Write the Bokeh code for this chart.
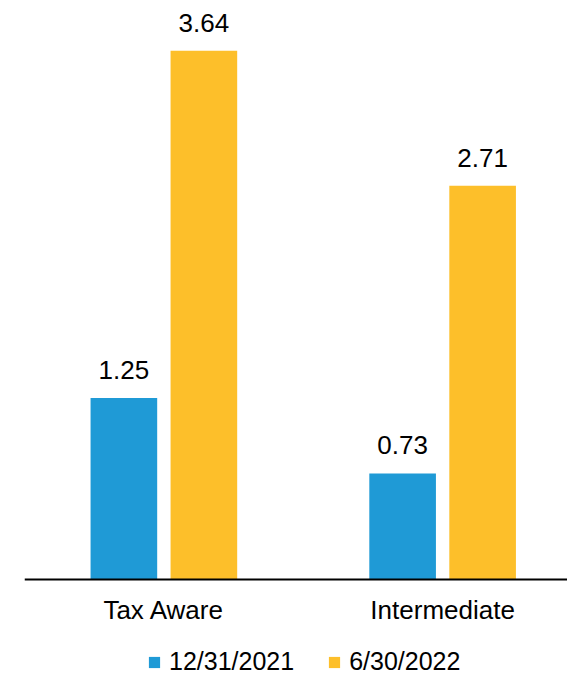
from bokeh.plotting import figure
from bokeh.models import Range1d, FixedTicker, ColumnDataSource, Legend, LegendItem, LinearAxis
from bokeh.core.properties import value
from bokeh.embed import file_html
from bokeh.resources import INLINE

categories = ["Tax Aware", "Intermediate"]
series_names = ["12/31/2021", "6/30/2022"]
values_2021 = [1.25, 0.73]
values_2022 = [3.64, 2.71]
colors = ["#1f9ad6", "#fdbf2a"]

FONT = "Liberation Sans"

idx = list(range(len(categories)))
offset = 0.1435
bar_w = 0.239

p = figure(frame_width=543, frame_height=668, output_backend="svg", toolbar_location=None,
           x_range=Range1d(-0.5, 1.448), y_range=Range1d(-0.6676, 3.93),
           x_axis_location=None, y_axis_location=None,
           min_border_left=24, min_border_right=0, min_border_top=8, min_border_bottom=0)
p.outline_line_color = None
p.grid.visible = False

renderers = []
for vals, off, col in [(values_2021, -offset, colors[0]), (values_2022, offset, colors[1])]:
    src = ColumnDataSource(dict(x=[i + off for i in idx], top=vals,
                                label=[f"{v:.2f}" for v in vals]))
    r = p.vbar(x="x", top="top", bottom=0, width=bar_w, source=src, fill_color=col, line_color=None)
    renderers.append(r)
    p.text(x="x", y="top", text="label", source=src, text_align="center",
           text_baseline="alphabetic", y_offset=-28, text_font=value(FONT),
           text_font_size="26px", text_color="#000000")

xa = LinearAxis(fixed_location=0)
xa.ticker = FixedTicker(ticks=idx)
xa.major_label_overrides = {i: c for i, c in zip(idx, categories)}
xa.axis_line_width = 2
xa.axis_line_color = "#000000"
xa.major_tick_line_color = None
xa.minor_tick_line_color = None
xa.major_label_text_font = FONT
xa.major_label_text_font_size = "26px"
xa.major_label_text_color = "#000000"
xa.major_label_standoff = 9
p.add_layout(xa, "below")

legend = Legend(items=[LegendItem(label=series_names[0], renderers=[renderers[0]]),
                       LegendItem(label=series_names[1], renderers=[renderers[1]])],
                orientation="horizontal", location=(123, 0),
                glyph_width=14, glyph_height=14, label_standoff=8, spacing=33,
                label_text_font=FONT, label_text_font_size="25px", label_text_color="#000000",
                border_line_color=None, background_fill_alpha=0, padding=0, margin=0)
p.add_layout(legend, "center")

open("out.html", "w").write(file_html(p, INLINE))
